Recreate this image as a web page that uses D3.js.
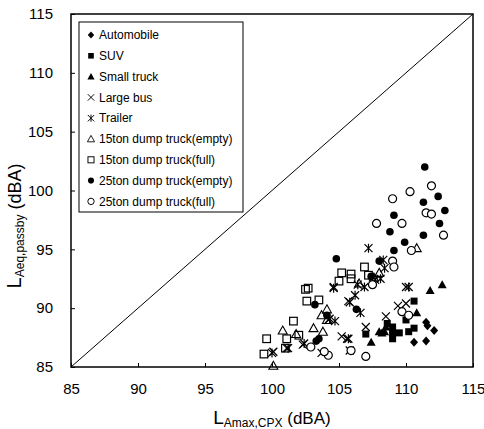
<!DOCTYPE html>
<html><head><meta charset="utf-8">
<script src="https://cdn.jsdelivr.net/npm/d3@7"></script>
<style>body{margin:0;background:#fff}svg{display:block}</style>
</head><body>
<script>
const xTicks=[85,90,95,100,105,110,115];
const yTicks=[85,90,95,100,105,110,115];
const automobile=[[111.5,88.8],[111.6,88.5],[112.1,88.1],[110.6,87.1],[111.5,87.2]];
const suv=[[110.6,90.6],[110.0,89.0],[109.0,88.4],[109.0,87.9],[109.5,87.9],[110.2,88.0],[110.6,88.3],[107.0,87.8],[109.0,87.4],[108.6,88.7]];
const smallTruck=[[112.7,92.0],[111.8,91.5],[110.8,89.6],[107.4,87.1],[108.2,87.9],[108.5,88.4],[108.0,88.0],[108.4,88.0]];
const largeBus=[[110.0,91.8],[109.4,90.2],[108.5,89.3],[107.0,88.4],[104.6,91.8],[105.7,90.6],[105.6,87.4],[102.3,86.9],[104.2,89.0],[105.8,86.4],[100.1,86.3],[101.1,86.6],[103.7,86.2],[110.0,90.4],[105.2,87.6]];
const trailer=[[107.2,95.1],[108.3,94.1],[108.4,93.4],[108.1,92.5],[106.9,91.8],[106.2,91.1],[105.8,90.5],[106.6,89.6],[104.6,91.7],[104.3,89.1],[104.7,88.9],[105.7,87.4],[110.2,91.8],[100.0,86.2],[101.2,86.6],[106.4,92.0],[107.7,92.4],[102.4,87.0]];
const dump15Empty=[[110.8,95.1],[108.0,93.0],[106.5,92.1],[104.1,89.9],[103.7,89.4],[103.1,88.3],[103.8,88.0],[100.8,88.1],[101.8,87.8],[100.1,85.1],[104.1,89.0],[107.6,92.6]];
const dump15Full=[[106.9,93.5],[105.2,93.0],[105.9,92.9],[105.9,92.5],[105.0,92.3],[102.5,91.6],[102.7,91.7],[102.6,90.6],[103.5,90.7],[107.2,92.8],[101.6,88.9],[99.6,87.4],[101.1,87.4],[102.0,87.7],[99.4,86.1],[101.0,86.6]];
const dump25Empty=[[111.4,102.0],[112.4,99.5],[111.3,99.0],[112.9,98.3],[109.1,97.9],[112.5,97.2],[108.8,96.5],[111.3,96.2],[109.9,95.6],[109.1,94.9],[104.8,94.2],[108.0,94.0],[107.4,92.7],[103.2,90.3],[104.1,89.4],[106.3,89.9],[103.3,87.2],[103.5,87.4]];
const dump25Full=[[111.9,100.4],[110.3,99.9],[109.0,99.3],[111.5,98.1],[111.9,98.0],[109.7,97.2],[107.8,97.2],[112.8,96.2],[110.4,94.9],[109.0,94.0],[109.1,93.5],[107.5,92.0],[109.7,89.7],[110.2,89.4],[104.2,86.0],[105.9,86.4],[107.0,85.9],[102.9,86.7],[103.9,86.3]];
const seriesNames=["Automobile","SUV","Small truck","Large bus","Trailer","15ton dump truck(empty)","15ton dump truck(full)","25ton dump truck(empty)","25ton dump truck(full)"];
const seriesData=[automobile,suv,smallTruck,largeBus,trailer,dump15Empty,dump15Full,dump25Empty,dump25Full];
const seriesMarker=["diamond","squareF","triF","x","star","triO","squareO","circleF","circleO"];

const W=484,H=429;
const svg=d3.select("body").append("svg").attr("width",W).attr("height",H);
const x=d3.scaleLinear().domain([85,115]).range([71,473]);
const y=d3.scaleLinear().domain([85,115]).range([367,14]);
const font="'Liberation Sans', Arial, sans-serif";

function marker(g,type){
  if(type==="diamond") g.append("path").attr("d","M0,-4.5L4,0L0,4.5L-4,0Z").attr("fill","#000");
  else if(type==="squareF") g.append("rect").attr("x",-3.5).attr("y",-3.5).attr("width",7).attr("height",7).attr("fill","#000");
  else if(type==="squareO") g.append("rect").attr("x",-3.8).attr("y",-3.8).attr("width",7.6).attr("height",7.6).attr("fill","none").attr("stroke","#000").attr("stroke-width",1.2);
  else if(type==="triF") g.append("path").attr("d","M0,-4.5L4.5,3.5L-4.5,3.5Z").attr("fill","#000");
  else if(type==="triO") g.append("path").attr("d","M0,-4.5L4.5,3.5L-4.5,3.5Z").attr("fill","none").attr("stroke","#000").attr("stroke-width",1.1);
  else if(type==="x") g.append("path").attr("d","M-4,-4L4,4M-4,4L4,-4").attr("stroke","#000").attr("stroke-width",1.2);
  else if(type==="star") g.append("path").attr("d","M-4,-4L4,4M-4,4L4,-4M0,-4.5L0,4.5").attr("stroke","#000").attr("stroke-width",1.2);
  else if(type==="circleF") g.append("circle").attr("r",3.8).attr("fill","#000");
  else if(type==="circleO") g.append("circle").attr("r",4).attr("fill","#fff").attr("stroke","#000").attr("stroke-width",1.2);
}

// frame
svg.append("rect").attr("x",x(85)).attr("y",y(115)).attr("width",x(115)-x(85)).attr("height",y(85)-y(115))
  .attr("fill","none").attr("stroke","#000").attr("stroke-width",1.5);
// diagonal
svg.append("line").attr("x1",x(85)).attr("y1",y(85)).attr("x2",x(115)).attr("y2",y(115)).attr("stroke","#000").attr("stroke-width",1);

// axes
const xAxis=svg.append("g").attr("transform",`translate(0,${y(85)})`)
  .call(d3.axisBottom(x).tickValues(xTicks).tickSizeInner(-4).tickSizeOuter(0).tickPadding(16));
const yAxis=svg.append("g").attr("transform",`translate(${x(85)},0)`)
  .call(d3.axisLeft(y).tickValues(yTicks).tickSizeInner(-4).tickSizeOuter(0).tickPadding(18));
[xAxis,yAxis].forEach(a=>{a.select(".domain").remove();a.selectAll("text").attr("font-family",font).attr("font-size",15).attr("fill","#000");a.selectAll("line").attr("stroke","#000");});

// points
seriesData.forEach((data,i)=>{
  svg.append("g").selectAll("g").data(data).enter().append("g")
    .attr("transform",d=>`translate(${x(d[0])},${y(d[1])})`)
    .each(function(){marker(d3.select(this),seriesMarker[i]);});
});

// legend
const lg=svg.append("g");
lg.append("rect").attr("x",79).attr("y",22).attr("width",164).attr("height",190).attr("fill","#fff").attr("stroke","#000").attr("stroke-width",1);
seriesNames.forEach((n,i)=>{
  const yy=35+i*20.8;
  const g=lg.append("g");
  marker(g,seriesMarker[i]);
  g.attr("transform",`translate(91,${yy}) scale(0.8)`);
  lg.append("text").attr("x",99).attr("y",yy).attr("dy","0.35em").attr("font-family",font).attr("font-size",12).text(n);
});

// axis titles
const xt=svg.append("text").attr("x",272).attr("y",424).attr("text-anchor","middle").attr("font-family",font).attr("fill","#000");
xt.append("tspan").attr("font-size",19).text("L");
xt.append("tspan").attr("font-size",12).attr("dy",3).text("Amax,CPX");
xt.append("tspan").attr("font-size",17).attr("dy",-3).text(" (dBA)");
const yt=svg.append("text").attr("transform","translate(21,226) rotate(-90)").attr("text-anchor","middle").attr("font-family",font).attr("fill","#000");
yt.append("tspan").attr("font-size",20).text("L");
yt.append("tspan").attr("font-size",12).attr("dy",3).text("Aeq,passby");
yt.append("tspan").attr("font-size",18).attr("dy",-3).text(" (dBA)");
</script>
</body></html>
